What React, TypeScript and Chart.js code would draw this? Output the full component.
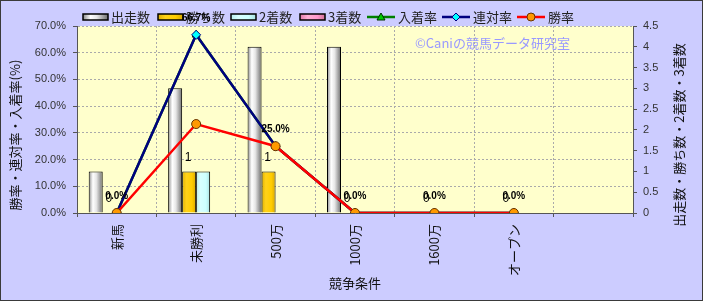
import React, { useEffect, useRef } from 'react';
import { Chart, registerables } from 'chart.js';

Chart.register(...registerables);

const categories = ['新馬', '未勝利', '500万', '1000万', '1600万', 'オープン', ''];
const starts = [1, 3, 4, 4, 0, 0, null];
const wins = [0, 1, 1, 0, 0, 0, null];
const seconds = [0, 1, 0, 0, 0, 0, null];
const thirds = [0, 0, 0, 0, 0, 0, null];
const placeRate = [0, 66.7, 25, 0, 0, 0, null];
const rentaiRate = [0, 66.7, 25, 0, 0, 0, null];
const winRate = [0, 33.3, 25, 0, 0, 0, null];

const seriesNames = ['出走数', '勝ち数', '2着数', '3着数', '入着率', '連対率', '勝率'];
const leftTitle = '勝率・連対率・入着率(%)';
const rightTitle = '出走数・勝ち数・2着数・3着数';
const xTitle = '競争条件';
const watermark = '©Caniの競馬データ研究室';

const FONT = '"Liberation Sans", "Noto Sans CJK JP", sans-serif';
const JFONT = '"Noto Sans CJK JP", "Liberation Sans", sans-serif';
const CAT_PCT = 0.705;

const grayStops: [number, string][] = [[0, '#8a8a8a'], [0.3, '#ffffff'], [0.55, '#e6e6e6'], [1, '#6e6e6e']];
const goldStops: [number, string][] = [[0, '#e0b000'], [0.3, '#ffd21a'], [0.7, '#ffcc00'], [1, '#d9a800']];
const cyanStops: [number, string][] = [[0, '#b8eeee'], [0.3, '#d8ffff'], [0.7, '#ccffff'], [1, '#a8e0e0']];
const pinkStops: [number, string][] = [[0, '#e07aa8'], [0.3, '#ffb0d4'], [0.7, '#ff99cc'], [1, '#d07098']];

function barGradient(stops: [number, string][]) {
  return (ctx: any) => {
    const chart = ctx.chart;
    const xs = chart.scales && chart.scales.x;
    if (!xs || ctx.type !== 'data') return stops[1][1];
    const n = categories.length;
    const cw = (xs.right - xs.left) / n;
    const group = cw * CAT_PCT;
    const bw = group / 4;
    const center = xs.getPixelForValue(ctx.dataIndex);
    const left = center - group / 2 + ctx.datasetIndex * bw;
    if (!isFinite(left) || !isFinite(bw) || bw <= 0) return stops[1][1];
    const g = chart.ctx.createLinearGradient(left, 0, left + bw, 0);
    stops.forEach(([o, c]) => g.addColorStop(o, c));
    return g;
  };
}

const bgPlugin = {
  id: 'bgPlugin',
  beforeDraw(chart: any) {
    const { ctx, width, height, chartArea } = chart;
    ctx.save();
    ctx.fillStyle = '#CCCCFF';
    ctx.fillRect(0, 0, width, height);
    ctx.strokeStyle = '#3a3a3a';
    ctx.lineWidth = 1;
    ctx.strokeRect(0.5, 0.5, width - 1, height - 1);
    ctx.fillStyle = '#FFFFCC';
    ctx.fillRect(chartArea.left, chartArea.top, chartArea.right - chartArea.left, chartArea.bottom - chartArea.top);

    // legend
    ctx.textBaseline = 'middle';
    ctx.font = `13px ${JFONT}`;
    const ly = 17;
    const items = [
      { x: 83, type: 'bar', stops: grayStops },
      { x: 158, type: 'bar', stops: goldStops },
      { x: 231, type: 'bar', stops: cyanStops },
      { x: 300, type: 'bar', stops: pinkStops },
      { x: 367, type: 'line', color: '#008000', marker: 'tri' },
      { x: 442, type: 'line', color: '#000080', marker: 'dia' },
      { x: 517, type: 'line', color: '#FF0000', marker: 'circ' },
    ];
    items.forEach((it: any, i) => {
      if (it.type === 'bar') {
        const g = ctx.createLinearGradient(it.x, 0, it.x + 25, 0);
        it.stops.forEach(([o, c]: [number, string]) => g.addColorStop(o, c));
        ctx.fillStyle = g;
        ctx.fillRect(it.x, ly - 3, 25, 6);
        ctx.strokeStyle = '#000';
        ctx.lineWidth = 1.5;
        ctx.strokeRect(it.x, ly - 3, 25, 6);
        ctx.fillStyle = '#222';
        ctx.textAlign = 'left';
        ctx.fillText(seriesNames[i], it.x + 28, ly);
      } else {
        ctx.strokeStyle = it.color;
        ctx.lineWidth = 2.5;
        ctx.beginPath();
        ctx.moveTo(it.x, ly);
        ctx.lineTo(it.x + 28, ly);
        ctx.stroke();
        const cx = it.x + 14;
        ctx.lineWidth = 1;
        ctx.beginPath();
        if (it.marker === 'tri') {
          ctx.moveTo(cx, ly - 4);
          ctx.lineTo(cx + 4, ly + 3);
          ctx.lineTo(cx - 4, ly + 3);
          ctx.closePath();
          ctx.fillStyle = '#00CC00';
          ctx.strokeStyle = '#003300';
        } else if (it.marker === 'dia') {
          ctx.moveTo(cx, ly - 4);
          ctx.lineTo(cx + 4, ly);
          ctx.lineTo(cx, ly + 4);
          ctx.lineTo(cx - 4, ly);
          ctx.closePath();
          ctx.fillStyle = '#00FFFF';
          ctx.strokeStyle = '#000080';
        } else {
          ctx.arc(cx, ly, 4, 0, Math.PI * 2);
          ctx.fillStyle = '#FF9900';
          ctx.strokeStyle = '#663300';
        }
        ctx.fill();
        ctx.stroke();
        ctx.fillStyle = '#222';
        ctx.textAlign = 'left';
        ctx.fillText(seriesNames[i], it.x + 31, ly);
      }
    });

    // watermark
    ctx.font = `13px ${JFONT}`;
    ctx.fillStyle = '#9999FF';
    ctx.textAlign = 'left';
    ctx.fillText(watermark, 415, 43);

    // axis titles
    ctx.fillStyle = '#111';
    ctx.font = `13px ${JFONT}`;
    ctx.textAlign = 'center';
    ctx.save();
    ctx.translate(15, 135);
    ctx.rotate(-Math.PI / 2);
    ctx.fillText(leftTitle, 0, 0);
    ctx.restore();
    ctx.save();
    ctx.translate(679, 135);
    ctx.rotate(-Math.PI / 2);
    ctx.fillText(rightTitle, 0, 0);
    ctx.restore();
    ctx.fillText(xTitle, (chartArea.left + chartArea.right) / 2, 283);
    ctx.restore();
  },
};

const labelPlugin = {
  id: 'labelPlugin',
  afterDatasetsDraw(chart: any) {
    const { ctx } = chart;
    ctx.save();
    ctx.textAlign = 'center';
    ctx.textBaseline = 'middle';
    ctx.fillStyle = '#000';
    // 勝ち数 labels
    const mWins = chart.getDatasetMeta(1);
    ctx.font = `12px ${FONT}`;
    mWins.data.forEach((el: any, i: number) => {
      const v = wins[i];
      if (v === null || v === undefined) return;
      ctx.fillText(String(v), el.x - 1, el.y - 14);
    });
    // 連対率 labels
    const mR = chart.getDatasetMeta(5);
    ctx.font = `bold 10px ${FONT}`;
    mR.data.forEach((el: any, i: number) => {
      const v = rentaiRate[i];
      if (v === null || v === undefined) return;
      ctx.fillText(v.toFixed(1) + '%', el.x, el.y - 17);
    });
    ctx.restore();
  },
};

export default function App() {
  const ref = useRef<HTMLCanvasElement | null>(null);
  useEffect(() => {
    if (!ref.current) return;
    const chart = new Chart(ref.current, {
      type: 'bar',
      data: {
        labels: categories,
        datasets: [
          { type: 'bar', label: seriesNames[0], data: starts as any, yAxisID: 'y1', backgroundColor: barGradient(grayStops) as any, borderColor: '#000', borderWidth: 1, categoryPercentage: CAT_PCT, barPercentage: 1, order: 10 },
          { type: 'bar', label: seriesNames[1], data: wins as any, yAxisID: 'y1', backgroundColor: barGradient(goldStops) as any, borderColor: '#000', borderWidth: 1, categoryPercentage: CAT_PCT, barPercentage: 1, order: 10 },
          { type: 'bar', label: seriesNames[2], data: seconds as any, yAxisID: 'y1', backgroundColor: barGradient(cyanStops) as any, borderColor: '#000', borderWidth: 1, categoryPercentage: CAT_PCT, barPercentage: 1, order: 10 },
          { type: 'bar', label: seriesNames[3], data: thirds as any, yAxisID: 'y1', backgroundColor: barGradient(pinkStops) as any, borderColor: '#000', borderWidth: 1, categoryPercentage: CAT_PCT, barPercentage: 1, order: 10 },
          { type: 'line', label: seriesNames[4], data: placeRate as any, yAxisID: 'y', borderColor: '#008000', borderWidth: 2.5, pointStyle: 'triangle', pointRadius: 4.5, pointBackgroundColor: '#00AA00', pointBorderColor: '#003300', pointBorderWidth: 1, order: 3, spanGaps: false },
          { type: 'line', label: seriesNames[5], data: rentaiRate as any, yAxisID: 'y', borderColor: '#000080', borderWidth: 2.5, pointStyle: 'rectRot', pointRadius: 4.5, pointBackgroundColor: '#00FFFF', pointBorderColor: '#000080', pointBorderWidth: 1, order: 2 },
          { type: 'line', label: seriesNames[6], data: winRate as any, yAxisID: 'y', borderColor: '#FF0000', borderWidth: 2.5, pointStyle: 'circle', pointRadius: 4.5, pointBackgroundColor: '#FF9900', pointBorderColor: '#663300', pointBorderWidth: 1, order: 1 },
        ] as any,
      },
      options: {
        responsive: false,
        animation: false,
        layout: { padding: { top: 26, left: 0, right: 0, bottom: 0 } },
        plugins: { legend: { display: false }, tooltip: { enabled: false } },
        scales: {
          x: {
            offset: true,
            grid: { offset: true, color: '#aaaaaa', drawTicks: true, tickLength: 4, tickColor: '#555' },
            border: { display: true, color: '#555', width: 1, dash: [2, 2] },
            ticks: { autoSkip: false, minRotation: 90, maxRotation: 90, padding: 7, color: '#111', font: { size: 13, family: JFONT } },
            afterFit(scale: any) { scale.height = 88; },
          },
          y: {
            position: 'left',
            min: 0,
            max: 70,
            grid: { color: '#aaaaaa', tickLength: 4, tickColor: '#555', tickBorderDash: [] },
            border: { display: true, color: '#555', width: 1, dash: [2, 2] },
            ticks: { stepSize: 10, padding: 7, color: '#333', font: { size: 11, family: FONT }, callback: (v: any) => Number(v).toFixed(1) + '%' },
            afterFit(scale: any) { scale.width = 77; },
          },
          y1: {
            position: 'right',
            min: 0,
            max: 4.5,
            grid: { drawOnChartArea: false, tickLength: 4, tickColor: '#555' },
            border: { display: true, color: '#555', width: 1 },
            ticks: { stepSize: 0.5, padding: 6, color: '#333', font: { size: 11, family: FONT }, callback: (v: any) => String(Math.round(Number(v) * 10) / 10) },
            afterFit(scale: any) { scale.width = 70; },
          },
        },
      } as any,
      plugins: [bgPlugin, labelPlugin],
    });
    return () => chart.destroy();
  }, []);
  return (
    <div style={{ position: 'absolute', left: 0, top: 0, width: 703, height: 301 }}>
      <canvas ref={ref} width={703} height={301} style={{ display: 'block' }} />
    </div>
  );
}
